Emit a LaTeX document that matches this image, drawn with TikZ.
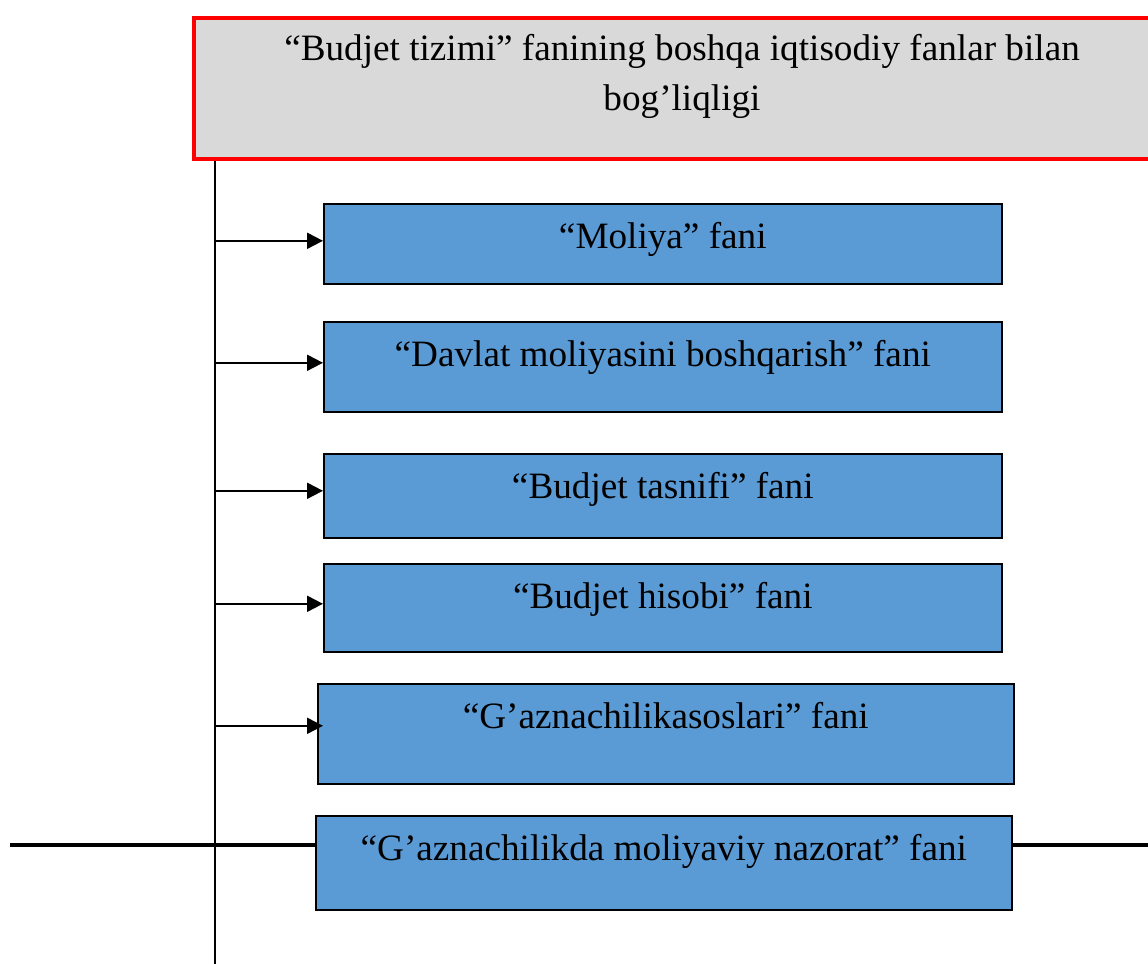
\documentclass[tikz,border=0pt]{standalone}
\usepackage{fontspec}
\setmainfont{Liberation Serif}
\usepackage{tikz}
\usetikzlibrary{arrows.meta}
\definecolor{fanblue}{RGB}{91,155,213}
\definecolor{titlegray}{RGB}{217,217,217}
\definecolor{titlered}{RGB}{255,0,0}

\tikzset{
  fanbox/.style={draw=black, line width=0.8pt, fill=fanblue, rectangle, anchor=north west,
    inner xsep=0pt, inner ysep=0pt, text height=22.5pt, font=\fontsize{18.6}{25}\selectfont},
  titlebox/.style={draw=titlered, line width=2pt, fill=titlegray, rectangle, anchor=north west,
    inner xsep=0pt, inner ysep=0pt, align=center, font=\fontsize{18.6}{25}\selectfont},
  arr/.style={line width=1pt, -{Triangle[length=8pt,width=8pt]}},
  crossline/.style={line width=2pt}
}

\begin{document}
\begin{tikzpicture}[x=0.5pt, y=-0.5pt]
  \useasboundingbox (0,0) rectangle (1148,964);

  % Title
  \node[titlebox, minimum width=488pt, minimum height=70.5pt, text height=46pt, text depth=24.5pt]
    (title) at (192,16) {“Budjet tizimi” fanining boshqa iqtisodiy fanlar bilan\\ bog’liqligi};

  % Boxes
  \node[fanbox, minimum width=339pt, text depth=17.5pt] (moliya) at (323,203) {“Moliya” fani};
  \node[fanbox, minimum width=339pt, text depth=22.5pt] (davlat) at (323,321) {“Davlat moliyasini boshqarish” fani};
  \node[fanbox, minimum width=339pt, text depth=19.5pt] (tasnif) at (323,453) {“Budjet tasnifi” fani};
  \node[fanbox, minimum width=339pt, text depth=21.5pt] (hisob) at (323,563) {“Budjet hisobi” fani};
  \node[fanbox, minimum width=348pt, text depth=27.5pt] (asos) at (317,683) {“G’aznachilikasoslari” fani};
  \node[fanbox, minimum width=348pt, text depth=24.5pt] (nazorat) at (315,815) {“G’aznachilikda moliyaviy nazorat” fani};

  % Spine
  \coordinate (spine) at (215,964);
  \draw[line width=1pt] (title.south -| spine) -- (spine);

  % Arrows
  \draw[arr] ([yshift=1.5pt]moliya.west -| spine) -- ([yshift=1.5pt]moliya.west);
  \draw[arr] ([yshift=2pt]davlat.west -| spine) -- ([yshift=2pt]davlat.west);
  \draw[arr] ([yshift=2.5pt]tasnif.west -| spine) -- ([yshift=2.5pt]tasnif.west);
  \draw[arr] ([yshift=2pt]hisob.west -| spine) -- ([yshift=2pt]hisob.west);
  \draw[arr] ([yshift=4pt]asos.west -| spine) -- ([xshift=3pt,yshift=4pt]asos.west);

  % Cross line
  \coordinate (lend) at (10,845);
  \coordinate (rend) at (1148,845);
  \draw[crossline] (lend) -- (lend -| nazorat.west);
  \draw[crossline] (lend -| nazorat.east) -- (rend);
\end{tikzpicture}
\end{document}
